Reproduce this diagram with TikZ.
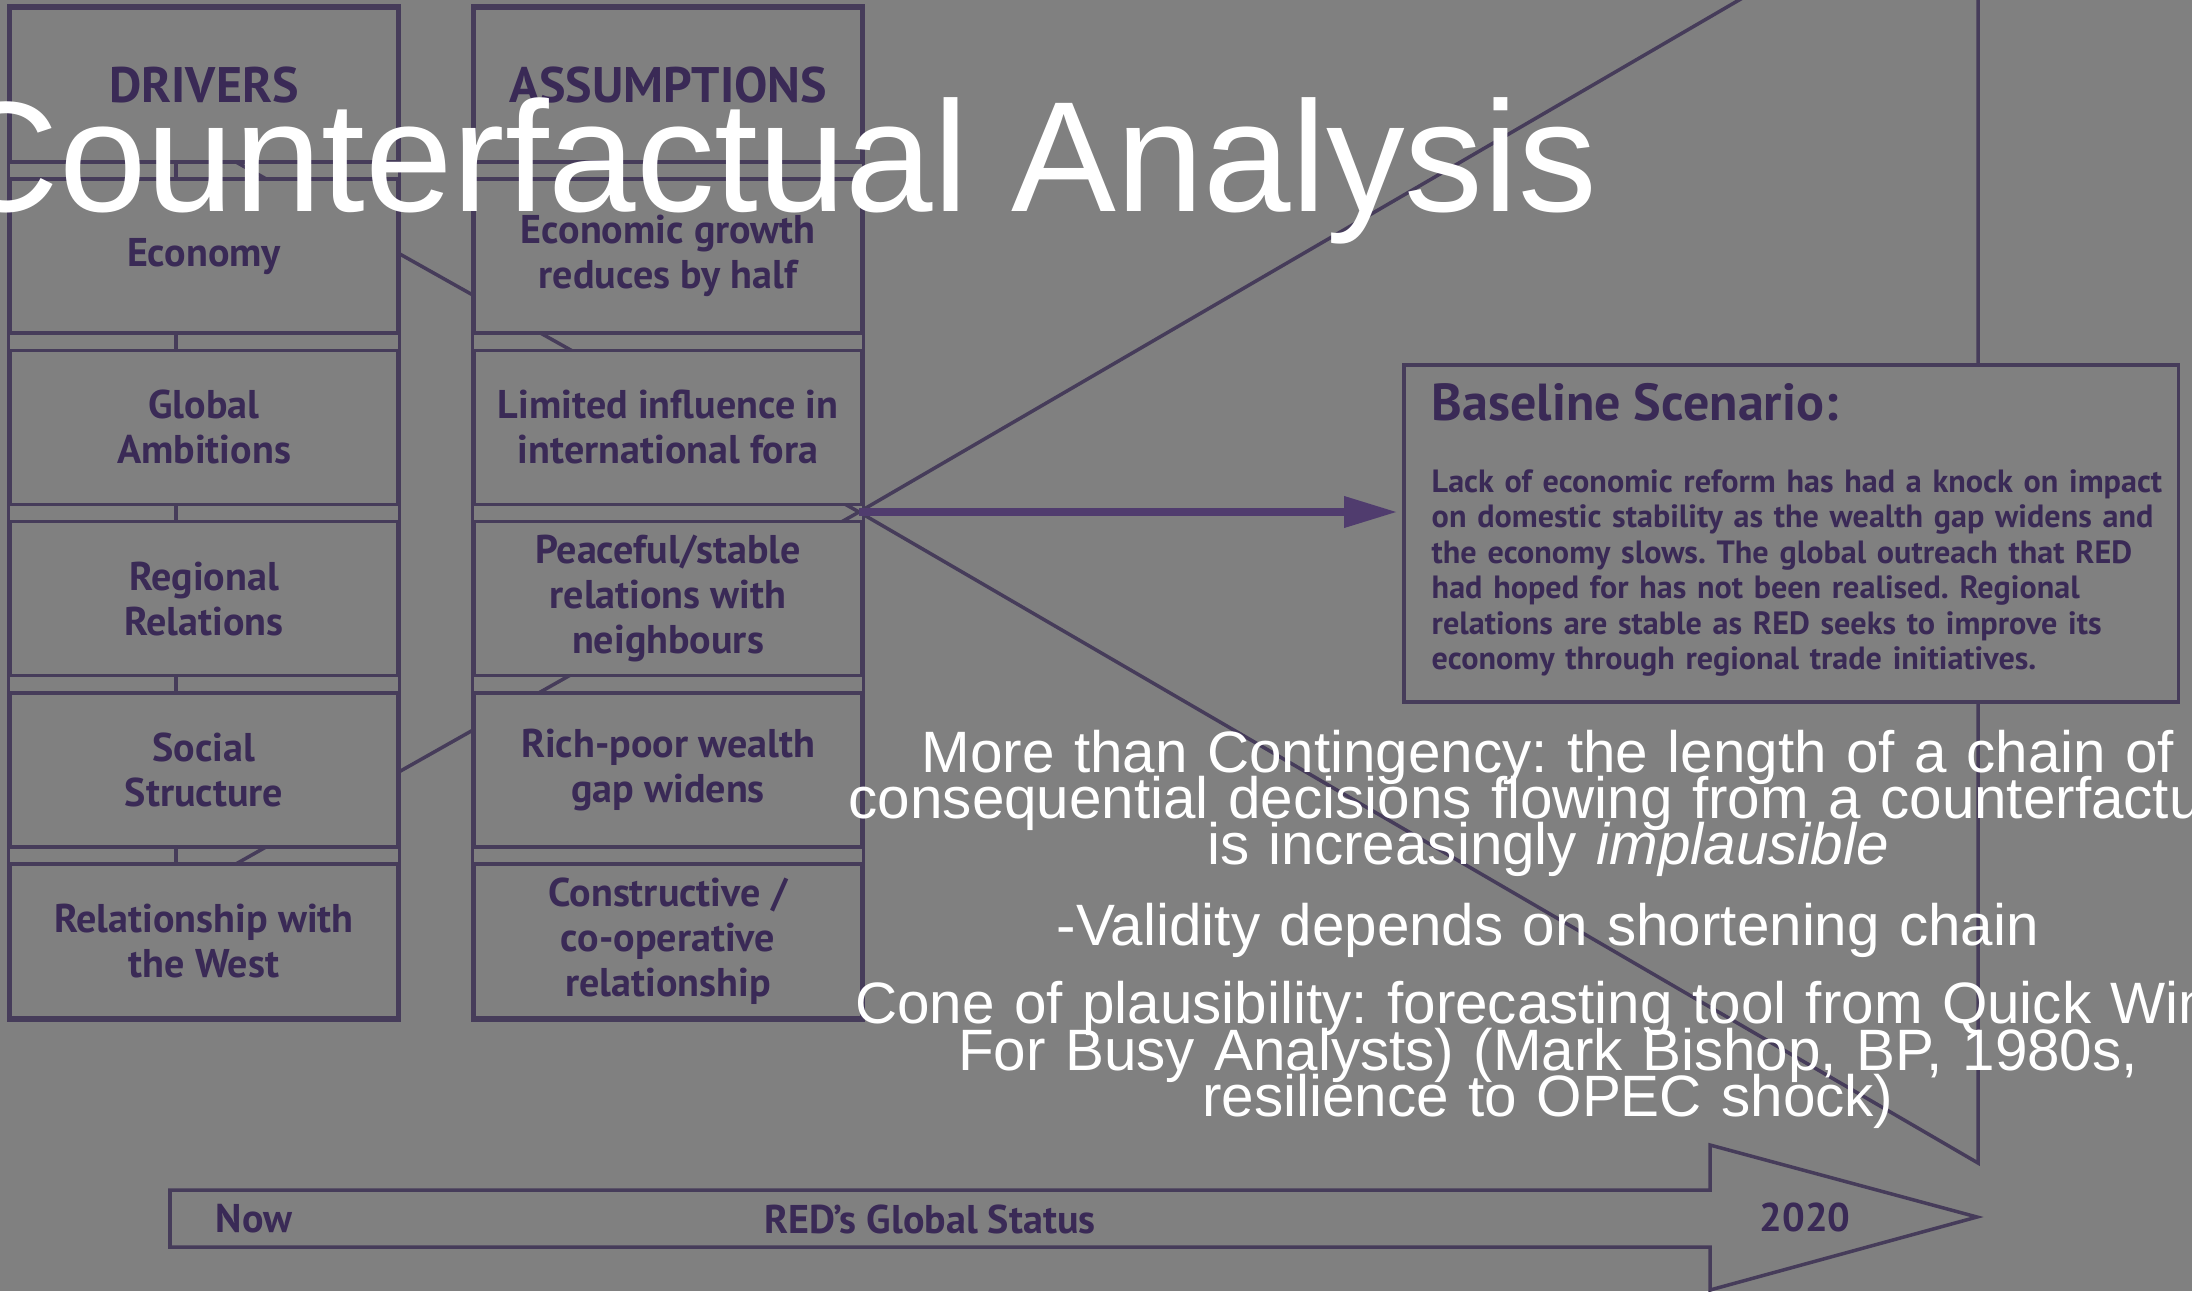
\documentclass[tikz,border=0pt]{standalone}
\usepackage{fontspec}
\setmainfont{Liberation Sans}
\newfontfamily\gillish{PT Sans}
\usetikzlibrary{arrows.meta,positioning}
\frenchspacing

\definecolor{slidegrey}{RGB}{128,128,128}
\definecolor{inkline}{RGB}{70,60,90}
\definecolor{inkarrow}{RGB}{80,60,110}
\definecolor{inktext}{RGB}{58,42,86}

\newcommand{\boxfont}{\gillish\bfseries\fontsize{11.4pt}{12.8pt}\selectfont}
\newcommand{\hdrfont}{\gillish\bfseries\fontsize{14.2pt}{16pt}\selectfont}
\newcommand{\bsltitlefont}{\gillish\bfseries\fontsize{14.8pt}{17pt}\selectfont}
\newcommand{\bslfont}{\gillish\bfseries\fontsize{9.15pt}{10.1pt}\selectfont}
\newcommand{\slidefont}{\fontsize{16.6pt}{13.2pt}\selectfont\lineskiplimit=-\maxdimen}
\newcommand{\titlefont}{\fontsize{44.7pt}{50pt}\selectfont}

\pgfdeclarelayer{back}
\pgfsetlayers{back,main}

\begin{document}
\begin{tikzpicture}[x=0.01cm, y=-0.01cm,
	box/.style={draw=inkline, line width=1pt, fill=slidegrey, minimum width=3.87cm, minimum height=1.54cm, align=center, text=inktext, font=\boxfont},
	ink/.style={draw=inkline, line width=1pt},
	lbl/.style={text=inktext, font=\boxfont, inner sep=0pt}]
	% slide size, row pitch
	\useasboundingbox (0,0) rectangle (2192,1291);
	\pgfmathparse{171.2}\let\rowp=\pgfmathresult
	\begin{pgfonlayer}{back}
		\fill[slidegrey] (0,0) rectangle (2192,1291);
	\end{pgfonlayer}
	% drivers column
	\node[box, font=\hdrfont] (drv) at (204, 85) {DRIVERS};
	\node[box] (eco) at (204, 85+\rowp) {Economy};
	\node[box] (glob) at (204, 85+2*\rowp) {Global\\Ambitions};
	\node[box] (reg) at (204, 85+3*\rowp) {Regional\\Relations};
	\node[box] (soc) at (204, 85+4*\rowp) {Social\\Structure};
	\node[box] (west) at (204, 85+5*\rowp) {Relationship with\\the West};
	% assumptions column
	\node[box, font=\hdrfont] (asm) at (668, 85) {ASSUMPTIONS};
	\node[box] (growth) at (668, 85+\rowp) {Economic growth\\reduces by half};
	\node[box] (fora) at (668, 85+2*\rowp) {Limited influence in\\international fora};
	\node[box] (peace) at (668, 85+3*\rowp) {Peaceful/stable\\relations with\\neighbours};
	\node[box] (gap) at (668, 85+4*\rowp) {Rich-poor wealth\\gap widens};
	\node[box] (coop) at (668, 85+5*\rowp) {Constructive /\\co-operative\\relationship};
	% frames round both columns
	\draw[ink] (drv.north west) rectangle (west.south east);
	\draw[ink] (asm.north west) rectangle (coop.south east);
	% baseline box
	\node[box, minimum width=7.74cm, minimum height=3.37cm] (bsl) at (1791, 533.5) {};
	\node[lbl, anchor=base west, font=\bsltitlefont] (bsltitle) at (1431, 420) {Baseline Scenario:};
	\node[lbl, anchor=base west, font=\bslfont, text width=9cm, align=left] (bsltext) at (1431, 492)
		{Lack of economic reform has had a knock on impact\\
		on domestic stability as the wealth gap widens and\\
		the economy slows. The global outreach that RED\\
		had hoped for has not been realised. Regional\\
		relations are stable as RED seeks to improve its\\
		economy through regional trade initiatives.};
	% lines behind the boxes
	\coordinate (lx) at (176, 0);
	\coordinate (o) at (859, 512);
	\coordinate (fanA) at (204, 144);
	\coordinate (fanB) at (204, 882);
	\coordinate (conetop) at (1978, -139);
	\coordinate (conebot) at (1978, 1163);
	\begin{pgfonlayer}{back}
		\draw[ink] (drv.center -| lx) -- (west.center -| lx);
		\draw[ink] (fanA) -- (o);
		\draw[ink] (fanB) -- (o);
		\draw[ink] (o) -- (conetop) -- (conebot) -- cycle;
	\end{pgfonlayer}
	% baseline arrow
	\draw[draw=inkarrow, line width=2pt, -{Triangle[length=5.3mm, width=3mm]}, shorten >=0.5mm] (o) -- (o -| bsl.west);
	% time line
	\draw[ink, fill=slidegrey] (170,1190) -- (1710,1190) -- (1710,1145) -- (1977,1217)
		-- (1710,1290) -- (1710,1247) -- (170,1247) -- cycle;
	\node[lbl] (now) at (254, 1219) {Now};
	\node[lbl] (status) at (930, 1219) {RED’s Global Status};
	\node[lbl] (yr) at (1805, 1217) {2020};
	% slide text
	\node[anchor=base, inner sep=0pt, text=white, font=\slidefont, text width=15cm, align=center] (notes) at (1548, 772)
		{More than Contingency: the length of a chain of\\
		consequential decisions flowing from a counterfactual\\
		is increasingly \textit{implausible}\\[9.8pt]
		-Validity depends on shortening chain\\[9pt]
		Cone of plausibility: forecasting tool from Quick Wins\\
		For Busy Analysts) (Mark Bishop, BP, 1980s,\\
		resilience to OPEC shock)};
	\node[anchor=base east, inner sep=0pt, text=white, font=\titlefont] (title) at (1598, 212) {Counterfactual Analysis};
\end{tikzpicture}
\end{document}
